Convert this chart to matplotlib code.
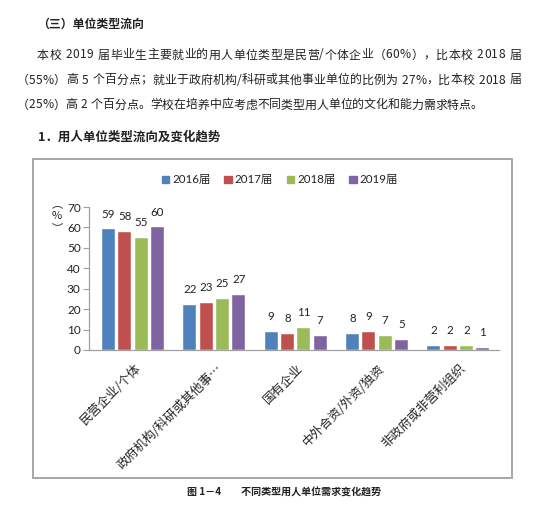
import matplotlib
matplotlib.use("Agg")
import matplotlib.pyplot as plt
from matplotlib.patches import Rectangle
import numpy as np

W, H = 547, 514

categories = ["民营企业/个体", "政府机构/科研或其他事…", "国有企业", "中外合资/外资/独资", "非政府或非营利组织"]
series = ["2016届", "2017届", "2018届", "2019届"]
values = {
    "2016届": [59, 22, 9, 8, 2],
    "2017届": [58, 23, 8, 9, 2],
    "2018届": [55, 25, 11, 7, 2],
    "2019届": [60, 27, 7, 5, 1],
}
colors = ["#4F81BD", "#C0504D", "#9BBB59", "#8064A2"]
yticks = [0, 10, 20, 30, 40, 50, 60, 70]

title = "（三）单位类型流向"
para = [
    "本校 2019 届毕业生主要就业的用人单位类型是民营/个体企业（60%），比本校 2018 届",
    "（55%）高 5 个百分点；就业于政府机构/科研或其他事业单位的比例为 27%，比本校 2018 届",
    "（25%）高 2 个百分点。学校在培养中应考虑不同类型用人单位的文化和能力需求特点。",
]
heading = "1．用人单位类型流向及变化趋势"
caption = "图 1－4　　不同类型用人单位需求变化趋势"

CJK = ["Noto Sans CJK SC", "DejaVu Sans"]
NUM = ["Lato", "Noto Sans CJK SC"]
plt.rcParams['font.family'] = CJK

fig = plt.figure(figsize=(W / 100, H / 100), dpi=100)
fig.patch.set_facecolor("white")

def fx(px):
    return px / W

def fy(py):
    return 1 - py / H

# chart frame
fig.patches.append(Rectangle((fx(33), fy(478)), fx(512) - fx(33), fy(159) - fy(478),
                             transform=fig.transFigure, fill=False,
                             edgecolor="#A6A6A6", linewidth=1.4, zorder=0))

# axes
ax = fig.add_axes([fx(89), fy(350), fx(499) - fx(89), fy(207) - fy(350)])
x = np.arange(len(categories))
slot = 0.2
bw = 0.16
for k, s in enumerate(series):
    xs = x + (k - 1.5) * slot
    bars = ax.bar(xs, values[s], width=bw, color=colors[k], edgecolor="white",
                  linewidth=0.3, label=s, zorder=2)
    for xi, v in zip(xs, values[s]):
        ax.annotate(str(v), (xi, v), xytext=(0, 7), textcoords="offset points",
                    ha="center", va="bottom", fontsize=8.3, family=NUM, color="#222222")

ax.set_xlim(-0.54, 4.5)
ax.set_ylim(0, 70)
ax.set_yticks(yticks)
ax.set_yticklabels([str(t) for t in yticks], family=NUM, fontsize=8.5, color="#222222")
ax.tick_params(axis="y", length=4, width=0.8, color="#A0A0A0", pad=2)
ax.set_xticks([])
for sp in ["top", "right"]:
    ax.spines[sp].set_visible(False)
for sp in ["left", "bottom"]:
    ax.spines[sp].set_color("#A0A0A0")
    ax.spines[sp].set_linewidth(0.9)
ax.set_facecolor("none")

for i, c in enumerate(categories):
    ax.annotate(c, (i, 0), xytext=(4, -12), textcoords="offset points",
                rotation=45, rotation_mode="anchor", ha="right", va="center",
                fontsize=9, color="#222222", family=CJK)

# y label (%)
for ch, py in [("︵", 204), ("%", 216), ("︶", 228)]:
    fig.text(fx(57), fy(py), ch, ha="center", va="center", fontsize=8, color="#222222")

# legend
handles = [Rectangle((0, 0), 1, 1, color=c) for c in colors]
leg = fig.legend(handles, series, loc="center", bbox_to_anchor=(fx(280), fy(180)),
                 ncol=4, frameon=False, handlelength=0.65, handleheight=0.65,
                 handletextpad=0.25, columnspacing=1.2, prop={"family": NUM, "size": 8.3})
for t in leg.get_texts():
    t.set_color("#222222")

# document text
BODY = 8.6
fig.text(fx(37), fy(24), title, ha="left", va="center", fontsize=BODY,
         fontweight="bold", color="#222222")
fig.text(fx(38), fy(137), heading, ha="left", va="center", fontsize=9,
         fontweight="bold", color="#222222")
fig.text(fx(284), fy(493), caption, ha="center", va="center", fontsize=7.2,
         fontweight="bold", color="#222222")

renderer = fig.canvas.get_renderer()

def justify(s, x0, x1, py):
    texts = []
    widths = []
    for ch in s:
        if ch == " ":
            texts.append(None)
            widths.append(BODY * 100 / 72 * 0.3)
            continue
        t = fig.text(0, fy(py), ch, ha="left", va="center", fontsize=BODY, color="#222222")
        texts.append(t)
        widths.append(t.get_window_extent(renderer).width)
    total = sum(widths)
    extra = (x1 - x0 - total) / (len(s) - 1) if x1 is not None else 0
    xx = x0
    for t, w in zip(texts, widths):
        if t is not None:
            t.set_x(fx(xx))
        xx += w + extra

justify(para[0], 37, 521, 55)
justify(para[1], 17, 521, 80)
justify(para[2], 17, None, 105)

fig.savefig("out.png", dpi=100, facecolor="white")
